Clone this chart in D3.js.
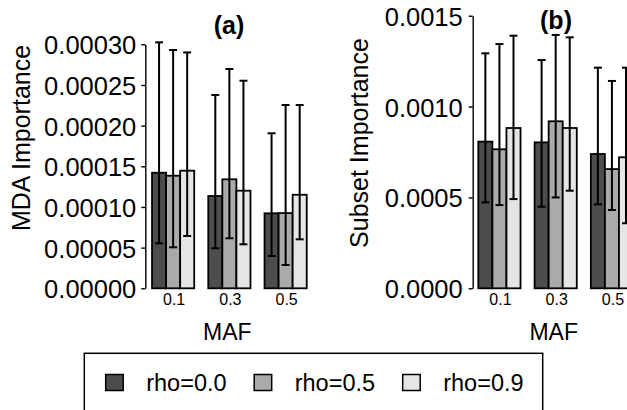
<!DOCTYPE html>
<html>
<head>
<meta charset="utf-8">
<script src="https://cdn.jsdelivr.net/npm/d3@7"></script>
<style>
  html, body { margin: 0; padding: 0; background: #fff; }
  svg { display: block; }
  svg text { font-family: "Liberation Sans", Arial, Helvetica, sans-serif; fill: #000; }
</style>
</head>
<body>
<svg id="chart" width="627" height="410"></svg>
<script>
// MAF groups and correlation settings
const mafLevels = ['0.1', '0.3', '0.5'];
const rhoLevels = ['rho=0.0', 'rho=0.5', 'rho=0.9'];
const rhoFills = ['#4d4d4d', '#aaaaaa', '#e5e5e5'];

// panel (a): MDA importance, one row per MAF, columns = rho
const mdaMean = [
    [0.0001421, 0.0001384, 0.0001446],
    [0.0001135, 0.0001340, 0.0001200],
    [0.0000922, 0.0000925, 0.0001150]
];
const mdaLow = [
    [0.0000553, 0.0000504, 0.0000643],
    [0.0000492, 0.0000615, 0.0000541],
    [0.0000397, 0.0000287, 0.0000602]
];
const mdaHigh = [
    [0.0003024, 0.0002930, 0.0002900],
    [0.0002377, 0.0002696, 0.0002552],
    [0.0001906, 0.0002254, 0.0002254]
];
const mdaTicks = [0, 0.00005, 0.0001, 0.00015, 0.0002, 0.00025, 0.0003];

// panel (b): subset importance
const subMean = [
    [0.000807, 0.000765, 0.000882],
    [0.000803, 0.000919, 0.000882],
    [0.000739, 0.000656, 0.000721]
];
const subLow = [
    [0.000473, 0.000458, 0.000491],
    [0.000449, 0.000500, 0.000537],
    [0.000462, 0.000431, 0.000358]
];
const subHigh = [
    [0.001293, 0.001344, 0.001390],
    [0.001256, 0.001394, 0.001381],
    [0.001214, 0.001141, 0.001214]
];
const subTicks = [0, 0.0005, 0.001, 0.0015];

const svg = d3.select('#chart');

function drawPanel(opts) {
    const g = svg.append('g');

    const y = d3.scaleLinear()
        .domain([0, opts.yMax])
        .range([288.3, opts.yTop]);

    const x = d3.scaleBand()
        .domain(mafLevels)
        .range([opts.left, opts.left + 168.75])
        .paddingInner(0.25)
        .paddingOuter(0.125);

    const xs = d3.scaleBand()
        .domain(rhoLevels)
        .range([0, x.bandwidth()]);

    // y axis
    const yAxis = g.append('g')
        .attr('transform', `translate(${opts.axisX},0)`)
        .call(d3.axisLeft(y)
            .tickValues(opts.ticks)
            .tickFormat(d3.format(opts.fmt))
            .tickSize(4)
            .tickSizeOuter(0)
            .tickPadding(opts.pad));
    yAxis.selectAll('path, line')
        .attr('stroke', '#000')
        .attr('stroke-width', 1.4);
    yAxis.selectAll('text')
        .style('font-size', '25.5px')
        .attr('dy', '0.37em');

    // bars
    const rows = [];
    mafLevels.forEach((m, i) => {
        rhoLevels.forEach((r, j) => {
            rows.push({
                maf: m, rho: r, k: j,
                mean: opts.mean[i][j],
                lo: opts.low[i][j],
                hi: opts.high[i][j]
            });
        });
    });

    g.selectAll('.bar')
        .data(rows)
        .enter()
        .append('rect')
        .attr('class', 'bar')
        .attr('x', d => x(d.maf) + xs(d.rho))
        .attr('y', d => y(d.mean))
        .attr('width', xs.bandwidth())
        .attr('height', d => y(0) - y(d.mean))
        .attr('fill', d => rhoFills[d.k])
        .attr('stroke', '#000')
        .attr('stroke-width', 1.8);

    // error bars
    const eb = g.selectAll('.err')
        .data(rows)
        .enter()
        .append('g')
        .attr('class', 'err')
        .attr('transform', d =>
            `translate(${x(d.maf) + xs(d.rho) + xs.bandwidth() / 2},0)`)
        .attr('stroke', '#000')
        .attr('stroke-width', 2);
    eb.append('line')
        .attr('y1', d => y(d.lo))
        .attr('y2', d => y(d.hi));
    eb.append('line')
        .attr('x1', -4).attr('x2', 4)
        .attr('y1', d => y(d.hi)).attr('y2', d => y(d.hi));
    eb.append('line')
        .attr('x1', -4).attr('x2', 4)
        .attr('y1', d => y(d.lo)).attr('y2', d => y(d.lo));

    // category labels
    g.selectAll('.cat')
        .data(mafLevels)
        .enter()
        .append('text')
        .attr('class', 'cat')
        .attr('x', d => x(d) + x.bandwidth() / 2 + 1)
        .attr('y', 305)
        .attr('text-anchor', 'middle')
        .style('font-size', '16px')
        .text(d => d);

    // axis titles
    g.append('text')
        .attr('x', x(mafLevels[1]) + x.bandwidth() / 2 - 2)
        .attr('y', 340)
        .attr('text-anchor', 'middle')
        .style('font-size', '23px')
        .text('MAF');

    g.append('text')
        .attr('transform', `translate(${opts.titleX},${opts.titleY}) rotate(-90)`)
        .attr('text-anchor', 'middle')
        .style('font-size', '25px')
        .text(opts.yTitle);

    g.append('text')
        .attr('x', opts.labelX)
        .attr('y', opts.labelY)
        .attr('text-anchor', 'middle')
        .style('font-size', '25px')
        .style('font-weight', 'bold')
        .text(opts.label);
}

drawPanel({
    yMax: 0.0003, yTop: 44.3, ticks: mdaTicks, fmt: '.5f', pad: 5,
    left: 145, axisX: 145.3,
    mean: mdaMean, low: mdaLow, high: mdaHigh,
    yTitle: 'MDA Importance', titleX: 30, titleY: 138,
    label: '(a)', labelX: 229, labelY: 34
});

drawPanel({
    yMax: 0.0015, yTop: 15.7, ticks: subTicks, fmt: '.4f', pad: 6,
    left: 471.3, axisX: 472.7,
    mean: subMean, low: subLow, high: subHigh,
    yTitle: 'Subset Importance', titleX: 368, titleY: 143,
    label: '(b)', labelX: 556, labelY: 29
});

// legend
const legend = svg.append('g');
legend.append('rect')
    .attr('x', 84.3)
    .attr('y', 353.3)
    .attr('width', 458.4)
    .attr('height', 80)
    .attr('fill', 'none')
    .attr('stroke', '#000')
    .attr('stroke-width', 1.5);

const keyX = d3.scalePoint()
    .domain(rhoLevels)
    .range([105.7, 402.7]);

const item = legend.selectAll('.key')
    .data(rhoLevels)
    .enter()
    .append('g')
    .attr('class', 'key')
    .attr('transform', d => `translate(${keyX(d)},374.5)`);
item.append('rect')
    .attr('width', 17.5)
    .attr('height', 16)
    .attr('fill', (d, i) => rhoFills[i])
    .attr('stroke', '#000')
    .attr('stroke-width', 1.5);
item.append('text')
    .attr('x', 40.5)
    .attr('y', 16.8)
    .style('font-size', '23.5px')
    .text(d => d);
</script>
</body>
</html>
